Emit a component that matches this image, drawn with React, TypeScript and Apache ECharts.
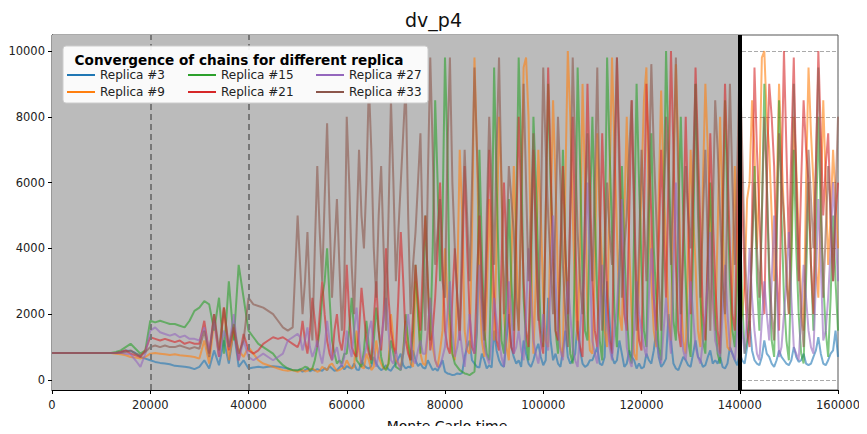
import React, { useEffect, useRef } from "react";
import * as echarts from "echarts";

const seriesNames = ["Replica #3", "Replica #9", "Replica #15", "Replica #21", "Replica #27", "Replica #33"];
const seriesColors = ["#1f77b4", "#ff7f0e", "#2ca02c", "#d62728", "#9467bd", "#8c564b"];

// Early part: one value every 1000 steps, 0 .. 49000
const start = [820, 820, 820, 820, 820, 820, 820, 820, 820, 820, 820, 820, 820];

const early3 = [...start,
  830, 850, 900, 880, 820, 700, 650,
  600, 550, 520, 500, 480, 430, 420, 400, 380, 330,
  400, 600, 350, 900, 450, 1200, 500, 1500, 400, 600,
  350, 380, 400, 380, 400, 420, 400, 380, 350, 300];
const early9 = [...start,
  800, 780, 750, 700, 680, 650, 700,
  800, 820, 800, 780, 760, 780, 750, 740, 720, 700,
  650, 1200, 500, 1800, 700, 2200, 600, 1500, 900, 700,
  1000, 800, 600, 500, 450, 400, 350, 300, 280, 300];
const early15 = [...start,
  850, 900, 1000, 1100, 950, 800, 900,
  1800, 1750, 1800, 1750, 1700, 1700, 1650, 1600, 1800, 2100,
  2200, 2400, 2300, 1500, 2500, 800, 3000, 1200, 3500, 2500,
  1500, 1300, 1100, 1000, 900, 800, 600, 450, 350, 300];
const early21 = [...start,
  820, 850, 900, 800, 750, 700, 900,
  1300, 1250, 1200, 1250, 1200, 1150, 1200, 1100, 1150, 1100,
  1100, 1800, 800, 2000, 700, 2200, 900, 1600, 600, 1400,
  900, 800, 900, 1100, 1200, 1300, 1250, 1300, 1200, 1100];
const early27 = [...start,
  820, 830, 800, 780, 600, 400, 800,
  1500, 1600, 1450, 1400, 1350, 1400, 1300, 1350, 1250, 1250,
  1200, 1600, 900, 1800, 700, 1500, 1000, 2000, 600, 1200,
  700, 600, 700, 800, 700, 600, 700, 800, 1200, 1300];
const early33 = [...start,
  820, 830, 850, 900, 800, 750, 850,
  1000, 1050, 1000, 1050, 1000, 1000, 1050, 1000, 950, 1000,
  950, 1500, 700, 2000, 900, 2200, 1000, 1700, 800, 1200,
  2500, 2300, 2250, 2200, 2100, 2000, 1800, 1600, 1500, 1600];

// Late part: one value every 500 steps, 50000 .. 160000
const late3 = [
  280, 320, 250, 300, 350, 260, 310, 290, 330, 300, 280, 360, 300, 420, 350, 280, 300, 380, 450, 320,
  420, 380, 350, 500, 320, 300, 600, 450, 380, 350, 420, 700, 500, 380, 300, 350, 450, 320, 280, 400,
  500, 650, 800, 450, 350, 400, 380, 900, 600, 420, 500, 380, 350, 600, 450, 300, 350, 280, 450, 600,
  250, 200, 180, 150, 160, 200, 180, 220, 700, 1000, 1200, 600, 500, 400, 380, 800, 600, 350, 450, 380,
  1500, 900, 600, 450, 400, 1200, 2000, 1000, 700, 500, 600, 400, 1200, 800, 500, 400, 600, 900, 1100, 700,
  450, 600, 2500, 1200, 600, 800, 500, 400, 900, 1500, 700, 500, 600, 800, 1800, 900, 500, 400, 450, 600,
  600, 800, 1000, 500, 450, 700, 3000, 1800, 700, 500, 600, 1200, 800, 400, 500, 900, 700, 600, 350, 500,
  350, 400, 800, 600, 500, 900, 1500, 700, 400, 500, 650, 2000, 1200, 500, 350, 300, 500, 700, 600, 450,
  400, 800, 1200, 700, 600, 400, 450, 700, 900, 500, 600, 500, 700, 400, 350, 500, 1000, 800, 600, 450,
  800, 600, 500, 1000, 1800, 900, 600, 500, 450, 700, 1200, 800, 700, 500, 400, 600, 900, 700, 600, 500,
  450, 600, 1000, 700, 550, 600, 800, 500, 450, 500, 700, 900, 1300, 800, 500, 450, 600, 800, 900, 1500,
  700];
const late9 = [
  250, 280, 300, 260, 280, 320, 350, 300, 250, 280, 400, 350, 300, 450, 500, 380, 280, 300, 350, 400,
  600, 450, 350, 400, 1500, 900, 400, 350, 800, 600, 300, 400, 1200, 700, 500, 350, 350, 500, 2000, 1200,
  600, 500, 400, 900, 1800, 1000, 500, 400, 3000, 2200, 800, 500, 450, 1500, 2500, 1000, 600, 400, 900, 1500,
  4000, 2500, 1200, 800, 600, 3000, 7000, 5000, 1500, 900, 800, 4500, 9800, 7000, 3000, 1200, 700, 2500, 5500, 3000,
  1200, 4000, 8000, 6000, 2000, 1000, 600, 3500, 6500, 4000, 1500, 5000, 9500, 9800, 8000, 4000, 800, 3000, 7000, 5000,
  2500, 1200, 1000, 5000, 8500, 6000, 3000, 1000, 700, 6000, 10000, 8000, 5000, 2500, 1200, 4000, 9000, 6000, 2000, 900,
  800, 3500, 7500, 5000, 3500, 1500, 1000, 6000, 9800, 7000, 4500, 2000, 1500, 5000, 8000, 4000, 2000, 800, 600, 3000,
  6000, 8500, 9500, 5000, 3000, 1500, 1000, 5500, 8800, 6000, 4000, 1800, 1200, 6000, 9600, 7000, 2500, 1200, 800, 4000,
  7000, 5000, 3500, 1500, 1000, 6000, 9000, 7000, 5000, 2500, 1500, 4500, 8000, 5000, 2000, 1000, 900, 3000, 6500, 4000,
  1500, 2000, 3000, 5500, 6000, 8500, 7000, 4000, 6000, 9800, 10000, 8000, 7000, 5000, 3000, 5500, 9000, 7000, 5000, 3500,
  2000, 4000, 8000, 6500, 4500, 2500, 1500, 6000, 9500, 7500, 6000, 3500, 2500, 5500, 8500, 6000, 3500, 5000, 7000, 5500,
  4000];
const late15 = [
  300, 320, 350, 400, 380, 300, 350, 600, 1000, 1500, 2500, 3000, 4000, 2500, 1200, 800, 500, 600, 500, 800,
  800, 1500, 2500, 1500, 600, 500, 400, 900, 1800, 1000, 500, 1200, 2200, 1500, 700, 400, 300, 500, 1200, 800,
  400, 350, 300, 800, 2000, 1200, 600, 1500, 3500, 2000, 800, 2500, 5000, 3000, 1200, 4000, 8500, 6000, 3000, 5000,
  9800, 7000, 2000, 800, 500, 400, 300, 250, 200, 180, 150, 200, 250, 1500, 7000, 4000, 1500, 800, 600, 4000,
  9500, 6000, 3000, 1200, 800, 2500, 5500, 3000, 1500, 5000, 9800, 7000, 2500, 1200, 600, 3000, 8000, 6000, 3500, 1500,
  1000, 5000, 9000, 6000, 4000, 1500, 800, 3500, 7000, 4000, 2000, 800, 500, 4000, 9500, 6500, 3000, 1500, 1200, 5000,
  8000, 5000, 2500, 1200, 600, 4000, 9800, 7000, 4500, 2000, 1000, 3500, 6500, 4000, 2000, 800, 500, 4500, 9000, 6000,
  3500, 1500, 1000, 5000, 7500, 4000, 2500, 1000, 600, 5000, 10000, 7000, 4000, 1800, 1200, 5000, 8000, 5000, 3000, 1200,
  700, 4000, 9000, 6000, 2500, 1200, 800, 3500, 6000, 3500, 1800, 800, 500, 4500, 8500, 5500, 3000, 1500, 1000, 3000,
  5000, 2500, 800, 1200, 2000, 4000, 6500, 3000, 1500, 5000, 9000, 6000, 3000, 1200, 700, 4000, 8500, 5000, 2500, 1200,
  600, 3500, 7000, 4000, 2000, 800, 500, 3000, 6000, 3500, 1500, 4500, 8000, 5000, 3000, 1500, 700, 2500, 5000, 3000,
  1500];
const late21 = [
  1000, 1200, 1800, 1200, 800, 1500, 2500, 1800, 1000, 2000, 3000, 2000, 1200, 800, 600, 1500, 2000, 1200, 900, 1500,
  3500, 2000, 1000, 800, 700, 1500, 2800, 2000, 1200, 800, 600, 1800, 3000, 1500, 900, 2000, 4000, 2500, 1500, 1000,
  800, 2500, 4500, 3000, 1200, 800, 600, 2000, 3500, 2500, 1500, 3500, 5000, 3000, 900, 1500, 2500, 4000, 6000, 3500,
  1500, 1000, 800, 2500, 4000, 2500, 1200, 3500, 6500, 4000, 2000, 1000, 800, 3000, 5000, 3000, 1500, 4000, 7000, 4500,
  2500, 1200, 900, 3500, 6000, 4000, 1800, 1000, 800, 4500, 8000, 5500, 3000, 1500, 1000, 4000, 7000, 4500, 2000, 1200,
  800, 5000, 9500, 6500, 3500, 1500, 1200, 4000, 6500, 4000, 2000, 5000, 8000, 4500, 1500, 1000, 700, 5000, 9000, 6000,
  3000, 1500, 1000, 4000, 7500, 5000, 2500, 1200, 800, 5500, 9800, 7000, 4000, 2000, 1500, 5000, 8500, 5500, 2500, 1200,
  900, 5000, 9000, 7000, 5000, 2500, 1500, 4000, 7000, 4500, 2500, 6000, 10000, 7000, 3500, 1500, 1000, 4500, 8000, 5000,
  2000, 5500, 9500, 7000, 4500, 2000, 1200, 4000, 7500, 5000, 3000, 1500, 800, 5000, 9000, 6500, 4000, 2000, 1500, 5000,
  8500, 5500, 3000, 1500, 1000, 5000, 9500, 7000, 5000, 3000, 2000, 6000, 9000, 8000, 6500, 3500, 1500, 6000, 10000, 7000,
  4000, 7000, 9800, 6000, 3000, 6000, 8500, 7000, 6000, 3500, 2000, 6500, 10000, 7500, 5000, 6500, 7500, 5000, 3000, 5000,
  6000];
const late27 = [
  1400, 1300, 900, 1200, 1600, 1000, 700, 900, 1200, 800, 500, 1000, 1800, 1200, 600, 800, 1000, 600, 400, 700,
  1500, 1000, 700, 1500, 2200, 1200, 500, 700, 1000, 1500, 1800, 900, 400, 800, 1200, 1800, 2500, 1500, 600, 500,
  900, 500, 300, 800, 1500, 2000, 1200, 600, 500, 900, 1200, 800, 800, 1500, 2500, 1500, 600, 400, 400, 700,
  1000, 2000, 3000, 1500, 700, 1000, 1500, 900, 400, 1200, 2000, 1200, 800, 1500, 3500, 2000, 1000, 700, 500, 1200,
  2500, 1800, 1200, 700, 400, 1500, 3000, 2000, 800, 1000, 1500, 900, 600, 2000, 4000, 2500, 1200, 800, 500, 1000,
  2000, 1200, 900, 3000, 5000, 3000, 1500, 900, 600, 1500, 3000, 2000, 1000, 600, 400, 1500, 2500, 4000, 6000, 3500,
  1200, 800, 500, 2000, 3500, 2500, 1800, 1000, 600, 1500, 2200, 3500, 5500, 3000, 1000, 600, 400, 1500, 3000, 2000,
  1500, 1000, 700, 2500, 4000, 2500, 1200, 800, 500, 1500, 2500, 1500, 800, 3500, 6000, 4000, 1500, 900, 600, 1500,
  3000, 2000, 1000, 700, 500, 1200, 2000, 3000, 4500, 2500, 1200, 900, 700, 2000, 3500, 2000, 1000, 800, 600, 1500,
  2500, 1500, 800, 2000, 4000, 2500, 1500, 800, 600, 1800, 3000, 2000, 1200, 3000, 5000, 3000, 700, 1000, 2000, 3000,
  4500, 2500, 1000, 800, 600, 2000, 3500, 2500, 1500, 1000, 800, 3000, 5500, 3500, 1200, 1500, 2500, 4000, 6000, 4500,
  3000];
const late33 = [
  5000, 3500, 2000, 3000, 4500, 2500, 1200, 4000, 6500, 4500, 3000, 5500, 7800, 5000, 2500, 4000, 5500, 3500, 1500, 3000,
  8000, 6000, 3500, 2000, 4500, 7000, 5000, 4000, 6000, 9000, 7000, 4000, 2500, 5000, 6500, 4000, 1500, 5000, 8500, 6000,
  3000, 4500, 6000, 7500, 9000, 5000, 2000, 3500, 4500, 6000, 7500, 4000, 1500, 6000, 9800, 7000, 3500, 4500, 5500, 3000,
  2500, 7000, 9800, 6000, 4000, 2500, 1500, 4500, 7000, 5000, 3000, 6000, 9500, 7000, 5000, 2500, 1200, 5000, 8000, 6000,
  3500, 7000, 9800, 6000, 2000, 4000, 6500, 5500, 4500, 2500, 1500, 5500, 9000, 6000, 3000, 5000, 7500, 4000, 1800, 5000,
  9500, 7000, 5000, 3500, 2000, 5000, 8000, 6000, 3500, 2000, 1000, 5500, 9800, 7000, 4500, 3000, 2000, 5000, 7500, 5000,
  3000, 6000, 9500, 5000, 1500, 3500, 6000, 4500, 3500, 7000, 9800, 6000, 2500, 4000, 5000, 7000, 8500, 5000, 1500, 4000,
  7000, 5000, 3000, 6000, 9600, 7000, 5000, 3000, 1500, 5000, 8000, 6000, 3500, 6500, 9800, 6000, 2000, 4000, 6500, 5000,
  4000, 6500, 9000, 5000, 2500, 5000, 7000, 4000, 1500, 5000, 8500, 7000, 5000, 3000, 2000, 5500, 9000, 6000, 3500, 6500,
  9800, 7000, 4000, 2500, 1500, 4000, 6000, 4000, 2500, 5000, 8000, 6000, 3500, 2000, 1200, 4500, 7500, 6000, 5000, 3000,
  2000, 5500, 9000, 6000, 3500, 2000, 1000, 4000, 7000, 5500, 4000, 6500, 9500, 6000, 2500, 4500, 6500, 5000, 3000, 5500,
  8000];

const earlyValues = [early3, early9, early15, early21, early27, early33];
const lateValues = [late3, late9, late15, late21, late27, late33];
const earlyStep = 1000;
const lateStart = 50000;
const lateStep = 500;

const xTicks = { min: 0, max: 160000, interval: 20000 };
const yRange = { min: -304, max: 10486 };
const grayEnd = 140000;
const dashedMarks = [20000, 40000];
const legendTitle = "Convergence of chains for different replica";
const xAxisTitle = "Monte Carlo time";
const FONT = "DejaVu Sans";

function buildData(k: number): [number, number][] {
  const a: [number, number][] = earlyValues[k].map((v, i) => [i * earlyStep, v]);
  const b: [number, number][] = lateValues[k].map((v, j) => [lateStart + j * lateStep, v]);
  return [...a, ...b];
}

export default function App() {
  const ref = useRef<HTMLDivElement>(null);
  useEffect(() => {
    if (!ref.current) return;
    const chart = echarts.init(ref.current, undefined, { renderer: "svg" });
    const lineSeries = seriesNames.map((name, k) => ({
      name,
      type: "line",
      data: buildData(k),
      showSymbol: false,
      symbol: "none",
      z: 3,
      color: seriesColors[k],
      lineStyle: { width: 2, opacity: 0.6, color: seriesColors[k] },
      itemStyle: { color: seriesColors[k] },
    }));
    const legendCommon = {
      orient: "vertical",
      icon: "rect",
      itemWidth: 28,
      itemHeight: 2,
      itemGap: 5,
      padding: 0,
      textStyle: { fontFamily: FONT, fontSize: 12, color: "#222" },
      itemStyle: { opacity: 1 },
      lineStyle: { opacity: 1 },
      z: 20,
    };
    chart.setOption({
      animation: false,
      backgroundColor: "#ffffff",
      title: {
        text: "dv_p4",
        left: "center",
        top: 5,
        textStyle: { fontFamily: FONT, fontSize: 19, fontWeight: "normal", color: "#111" },
      },
      grid: {
        left: 52,
        right: 29,
        top: 35,
        bottom: 44,
        outerBoundsMode: "none",
        containLabel: false,
        show: true,
        borderColor: "#555",
        borderWidth: 1,
        backgroundColor: "transparent",
      },
      xAxis: {
        type: "value",
        min: xTicks.min,
        max: xTicks.max,
        interval: xTicks.interval,
        axisLine: { onZero: false, lineStyle: { color: "#000", width: 1.2 } },
        axisTick: { show: true, length: 4, lineStyle: { color: "#000" } },
        axisLabel: { fontFamily: FONT, fontSize: 11.5, color: "#222", margin: 9, formatter: (v: number) => String(v) },
        splitLine: { show: true, lineStyle: { type: "dashed", color: "#aaaaaa", width: 1 } },
      },
      yAxis: {
        type: "value",
        min: yRange.min,
        max: yRange.max,
        splitNumber: 5,
        axisLine: { show: true, onZero: false, lineStyle: { color: "#000", width: 1.2 } },
        axisTick: { show: true, length: 4, lineStyle: { color: "#000" } },
        axisLabel: {
          fontFamily: FONT,
          fontSize: 11.5,
          color: "#222",
          margin: 7,
          showMinLabel: false,
          showMaxLabel: false,
          formatter: (v: number) => String(v),
        },
        splitLine: { show: true, lineStyle: { type: "dashed", color: "#aaaaaa", width: 1 } },
      },
      legend: [
        { ...legendCommon, data: [seriesNames[0], seriesNames[1]], left: 67, top: 69 },
        { ...legendCommon, data: [seriesNames[2], seriesNames[3]], left: 188, top: 69 },
        { ...legendCommon, data: [seriesNames[4], seriesNames[5]], left: 316, top: 69 },
      ],
      graphic: [
        {
          type: "rect",
          z: 15,
          shape: { x: 63, y: 46, width: 365, height: 57, r: 3 },
          style: { fill: "rgba(255,255,255,0.92)", stroke: "#cccccc", lineWidth: 1 },
        },
        {
          type: "text",
          z: 16,
          x: 239,
          y: 60,
          style: {
            text: legendTitle,
            fontFamily: FONT,
            fontSize: 13.6,
            fontWeight: "bold",
            fill: "#000",
            textAlign: "center",
            textVerticalAlign: "middle",
          },
        },
        {
          type: "text",
          z: 16,
          x: 447,
          y: 426,
          style: {
            text: xAxisTitle,
            fontFamily: FONT,
            fontSize: 14,
            fill: "#111",
            textAlign: "center",
            textVerticalAlign: "middle",
          },
        },
      ],
      series: [
        {
          name: "bg",
          type: "line",
          data: [],
          z: 1,
          silent: true,
          markArea: {
            silent: true,
            itemStyle: { color: "#bbbbbb" },
            data: [[{ xAxis: xTicks.min }, { xAxis: grayEnd }]],
          },
        },
        ...lineSeries,
        {
          name: "marks",
          type: "line",
          data: [],
          z: 5,
          silent: true,
          markLine: {
            silent: true,
            symbol: "none",
            label: { show: false },
            data: [
              ...dashedMarks.map((x) => ({ xAxis: x, lineStyle: { color: "#777777", width: 2, type: [6, 4] } })),
              { xAxis: grayEnd, lineStyle: { color: "#000000", width: 4, type: "solid" } },
            ],
          },
        },
      ],
    });
    return () => chart.dispose();
  }, []);
  return <div ref={ref} style={{ width: 867, height: 434, margin: -8 }} />;
}
